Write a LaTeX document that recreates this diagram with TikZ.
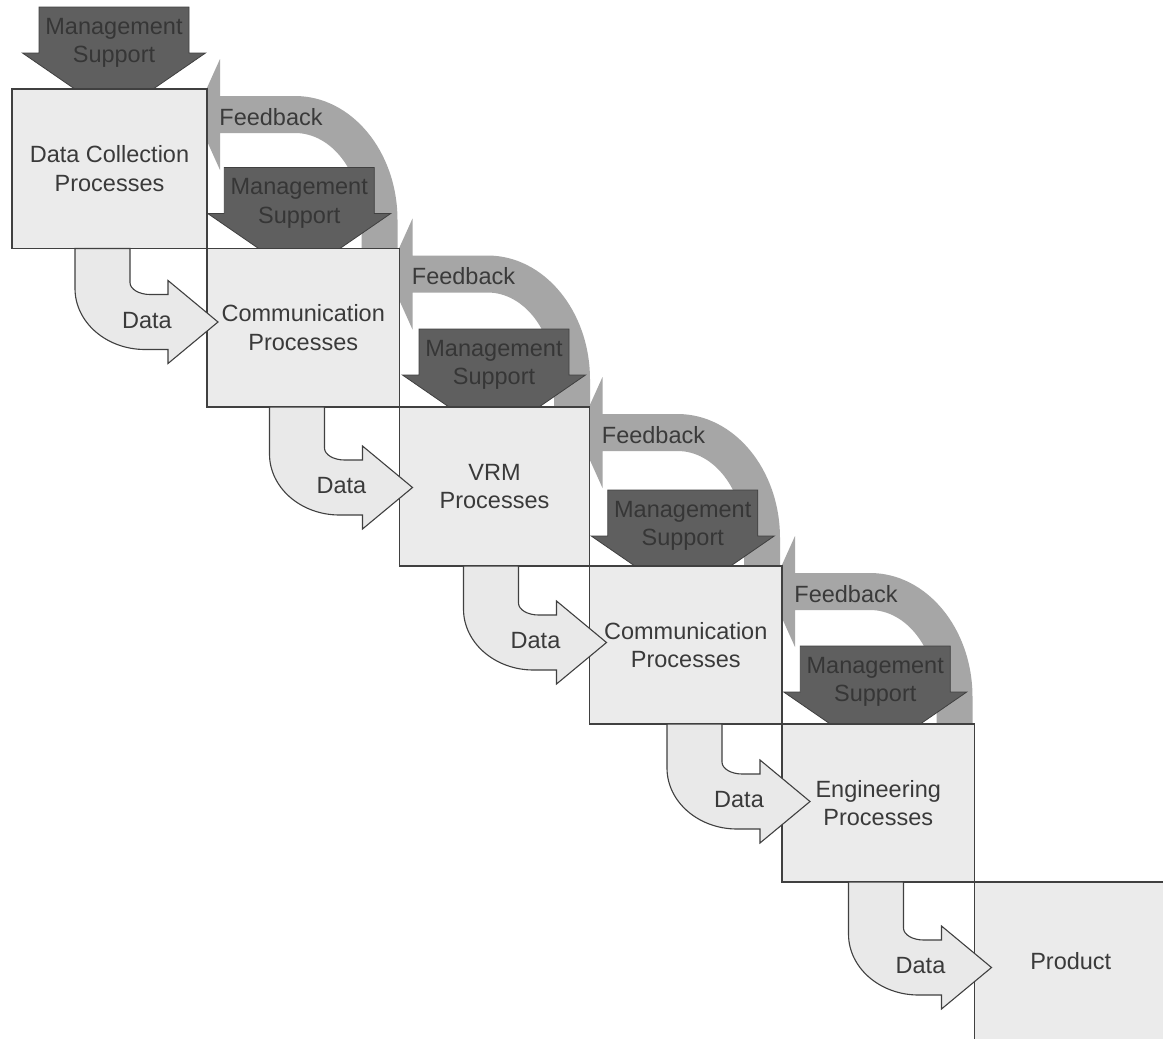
\documentclass[tikz,border=0pt]{standalone}
\usepackage{fontspec}
\setmainfont{Liberation Sans}
\usetikzlibrary{calc}

\definecolor{boxfill}{HTML}{EBEBEB}
\definecolor{dataFill}{HTML}{E9E9E9}
\definecolor{edge}{HTML}{404040}
\definecolor{mgmtfill}{HTML}{5F5F5F}
\definecolor{mgmttext}{HTML}{363636}
\definecolor{fbfill}{HTML}{A6A6A6}
\definecolor{ink}{HTML}{3A3A3A}

\newcommand\diagfont{\fontsize{23.5pt}{28.5pt}\selectfont}

\pgfdeclarelayer{bg}
\pgfdeclarelayer{back}
\pgfdeclarelayer{mid}
\pgfdeclarelayer{front}
\pgfsetlayers{bg,back,mid,main,front}

% management arrow above a box: box, dx, dy, label name
\newcommand\mgmtarrow[4]{%
  \begin{scope}[shift={($(#1.north)+(#2,#3)$)}]
    \draw[mgmt] (-75,-79) -- (75,-79) -- (75,-33) -- (91.5,-33) -- (0,30)
      -- (-91.5,-33) -- (-75,-33) -- cycle;
    \node[mgmtlabel] (#4) at (0,-43) {Management\\Support};
  \end{scope}}

% feedback arrow from the right of a box back into it: box, label name
\newcommand\fbarrow[2]{%
  \begin{scope}[shift={(#1.north east)}]
    \fill[fbfill] (13,7) -- (88,7) .. controls (144.6,7) and (190.5,62.5) .. (190.5,131)
      -- (190.5,161) -- (154.5,161) -- (154.5,131)
      .. controls (154.5,83) and (124.7,44) .. (88,44)
      -- (13,44) -- (13,81) -- (-12,25.5) -- (13,-30) -- cycle;
    \node[fblabel] (#2) at (64,28) {Feedback};
  \end{scope}}

% bent data arrow into a box: target box, dx, dy, label name
\newcommand\dataarrow[4]{%
  \begin{scope}[shift={($(#1.north west)+(#2,#3)$)}]
    \draw[dataarr] (-128,{0-(#3)}) -- (-128,43)
      .. controls (-128,76.7) and (-96.7,104) .. (-58,104)
      -- (-35,104) -- (-35,118) -- (15,76.5) -- (-35,35) -- (-35,49) -- (-53,49)
      .. controls (-64,49) and (-73,43.6) .. (-73,37) -- (-73,{0-(#3)}) -- cycle;
    \node[datalabel] (#4) at (-56,75) {Data};
  \end{scope}}

\begin{document}
\begin{tikzpicture}[x=1pt,y=-1pt,
  box/.style={draw=edge, fill=boxfill, line width=1.2pt, outer sep=0pt,
    inner sep=0pt, align=center, text=ink, font=\diagfont},
  mgmt/.style={draw=edge, fill=mgmtfill, line width=0.8pt},
  dataarr/.style={draw=edge, fill=dataFill, line width=1.1pt, line join=miter},
  mgmtlabel/.style={text=mgmttext, align=center, font=\diagfont, inner sep=0pt},
  fblabel/.style={text=ink, font=\diagfont, inner sep=0pt},
  datalabel/.style={text=ink, font=\diagfont, inner sep=0pt}]

\clip (0,0) rectangle (1163,1039);
\begin{pgfonlayer}{bg}
  \fill[white] (0,0) rectangle (1163,1039);
\end{pgfonlayer}

% process boxes, stepping down to the right
\node[box, minimum width=195pt, minimum height=159.5pt] (b1) at (109.5,168.75) {Data Collection\\Processes};
\node[box, minimum width=192.5pt, minimum height=158.5pt] (b2) at (303.25,327.75) {Communication\\Processes};
\node[box, minimum width=190pt, minimum height=159pt] (b3) at (494.5,486.5) {VRM\\Processes};
\node[box, minimum width=192.5pt, minimum height=158pt] (b4) at (685.75,645) {Communication\\Processes};
\node[box, minimum width=192.5pt, minimum height=158pt] (b5) at (878.25,803) {Engineering\\Processes};
\node[box, minimum width=192.5pt, minimum height=158pt] (b6) at (1070.75,961) {Product};

% feedback loops, behind everything
\begin{pgfonlayer}{back}
  \fbarrow{b1}{f1}
  \fbarrow{b2}{f2}
  \fbarrow{b3}{f3}
  \fbarrow{b4}{f4}
\end{pgfonlayer}

% management support arrows
\begin{pgfonlayer}{mid}
  \mgmtarrow{b1}{4.5}{-3}{m1}
  \mgmtarrow{b2}{-4}{-2}{m2}
  \mgmtarrow{b3}{-0.5}{1}{m3}
  \mgmtarrow{b4}{-3}{3}{m4}
  \mgmtarrow{b5}{-3}{1}{m5}
\end{pgfonlayer}

% data hand-over arrows, on top
\begin{pgfonlayer}{front}
  \dataarrow{b2}{-4}{-3}{d1}
  \dataarrow{b3}{-2}{4}{d2}
  \dataarrow{b4}{2}{0}{d3}
  \dataarrow{b5}{13}{1}{d4}
  \dataarrow{b6}{2}{9}{d5}
\end{pgfonlayer}

\end{tikzpicture}
\end{document}
